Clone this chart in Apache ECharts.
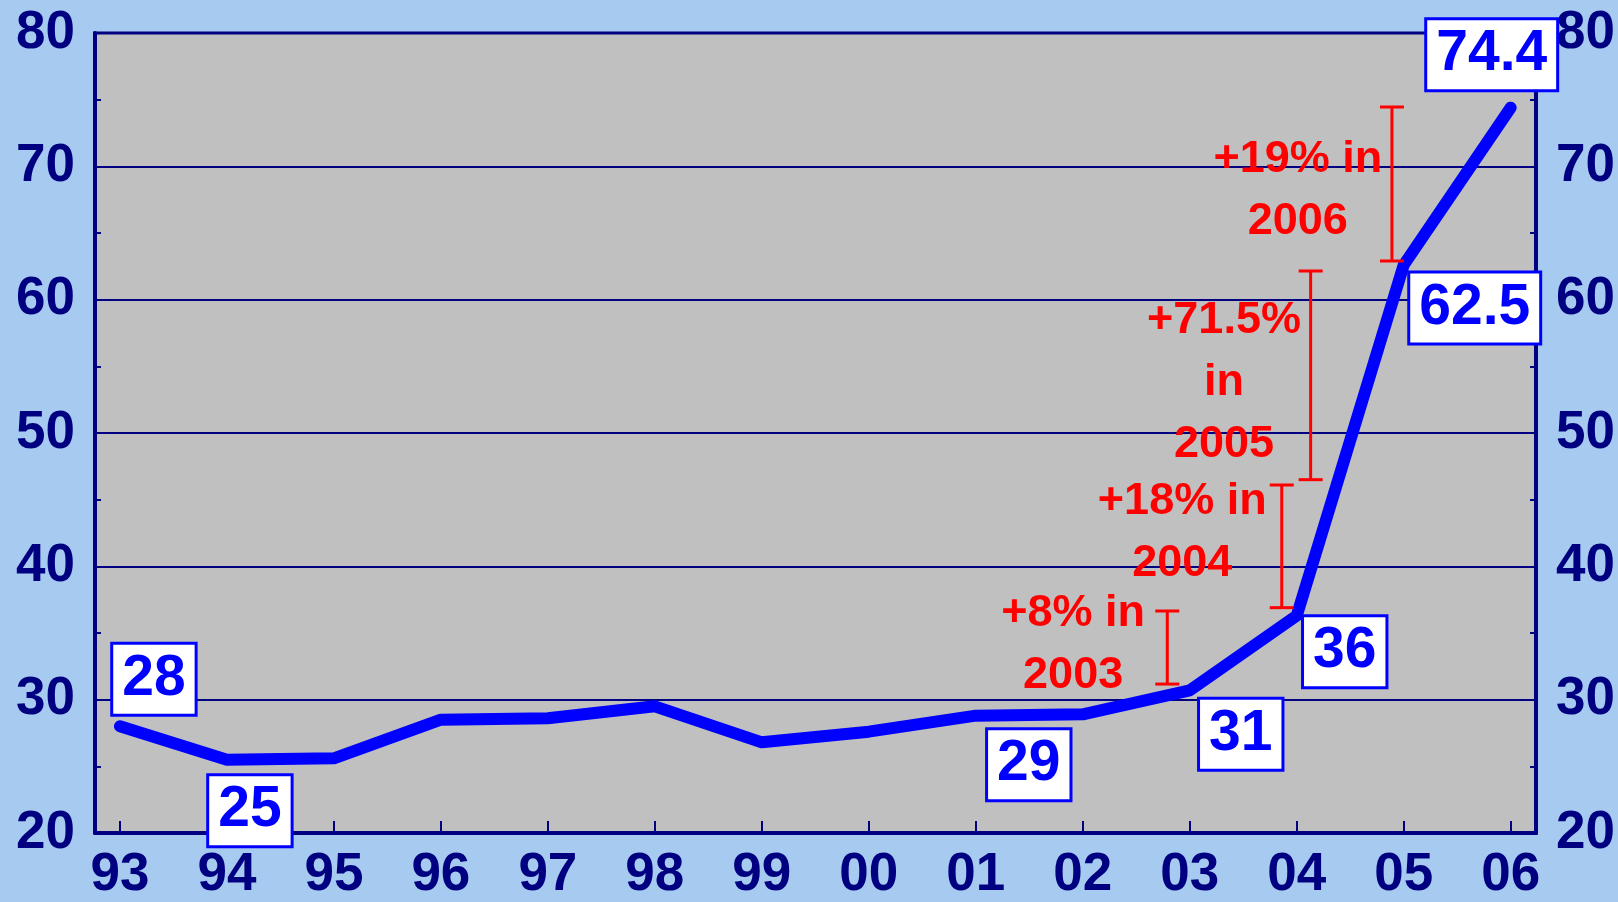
<!DOCTYPE html>
<html>
<head>
<meta charset="utf-8">
<script src="https://cdn.jsdelivr.net/npm/echarts@6/dist/echarts.min.js"></script>
<style>
  html, body { margin: 0; padding: 0; background: #a6caf0; }
  #chart { width: 1618px; height: 902px; }
</style>
</head>
<body>
<div id="chart"></div>
<script>
// data
const YEARS = ['93', '94', '95', '96', '97', '98', '99', '00', '01', '02', '03', '04', '05', '06']
const PRICES = [28, 25.5, 25.6, 28.5, 28.6, 29.5, 26.8, 27.6, 28.8, 28.9, 30.7, 36.3, 62.6, 74.4]
const POINT_LABELS = ['28', '25', '', '', '', '', '', '', '29', '', '31', '36', '62.5', '74.4']

// growth brackets (x in year index units, low/high in axis units)
const BRACKET_X = [9.79, 10.86, 11.13, 11.89]
const BRACKET_LOW = [31.17, 36.9, 46.5, 62.9]
const BRACKET_HIGH = [36.65, 46.1, 62.15, 74.45]
const NOTE_TEXT = ['+8% in\n2003', '+18% in\n2004', '+71.5%\nin\n2005', '+19% in\n2006']
const NOTE_X = [8.91, 9.93, 10.32, 11.01]
const NOTE_Y = [34.1, 42.5, 53.75, 68.15]

const NAVY = '#000080'
const BLUE = '#0000ff'
const RED = '#ff0000'
const FONT = "'Liberation Sans', Arial, sans-serif"

// where each value box sits relative to its point, in px
const LABEL_OFFSET = { 0: [34, -47], 1: [23, 51], 8: [53, 49], 10: [51, 44], 11: [48, 36], 12: [71, 43], 13: [-19, -53] }

const chart = echarts.init(document.getElementById('chart'))

const yAxisBase = {
  type: 'value',
  min: 20,
  max: 80,
  interval: 10,
  axisLine: { show: true, onZero: false, lineStyle: { color: NAVY, width: 4 } },
  axisTick: { show: false, inside: true },
  minorTick: { show: true, splitNumber: 2, length: 6, lineStyle: { color: NAVY, width: 2 } },
  axisLabel: { color: NAVY, fontSize: 53, fontWeight: 'bold', fontFamily: FONT, margin: 20 },
}

chart.setOption({
  backgroundColor: '#a6caf0',
  animation: false,
  grid: {
    left: 95, top: 33, width: 1444, height: 800,
    show: true, backgroundColor: '#c0c0c0', borderColor: NAVY, borderWidth: 3,
  },
  xAxis: {
    type: 'value',
    min: -0.233,
    max: 13.237,
    axisLine: { show: true, onZero: false, lineStyle: { color: NAVY, width: 4 } },
    axisTick: { show: true, inside: true, length: 12, customValues: YEARS.map((_, i) => i), lineStyle: { color: NAVY, width: 2 } },
    axisLabel: {
      customValues: YEARS.map((_, i) => i),
      formatter: v => YEARS[Math.round(v)],
      color: NAVY, fontSize: 53, fontWeight: 'bold', fontFamily: FONT, margin: 16,
    },
    splitLine: { show: false },
  },
  yAxis: [
    { ...yAxisBase, position: 'left', splitLine: { show: true, lineStyle: { color: NAVY, width: 2 } } },
    { ...yAxisBase, position: 'right', splitLine: { show: false } },
  ],
  series: [
    {
      type: 'line',
      data: PRICES.map((v, i) => [i, v]),
      symbol: 'none',
      lineStyle: { color: BLUE, width: 12, cap: 'round', join: 'round' },
      z: 3,
    },
    {
      type: 'custom',
      z: 4,
      data: BRACKET_X.map((x, i) => [x, BRACKET_LOW[i], BRACKET_HIGH[i], NOTE_X[i], NOTE_Y[i]]),
      renderItem: (params, api) => {
        const i = params.dataIndex
        const lo = api.coord([api.value(0), api.value(1)])
        const hi = api.coord([api.value(0), api.value(2)])
        const txt = api.coord([api.value(3), api.value(4)])
        const cap = 12
        const ls = { stroke: RED, lineWidth: 3 }
        return {
          type: 'group',
          children: [
            { type: 'line', shape: { x1: lo[0], y1: lo[1], x2: hi[0], y2: hi[1] }, style: ls },
            { type: 'line', shape: { x1: lo[0] - cap, y1: lo[1], x2: lo[0] + cap, y2: lo[1] }, style: ls },
            { type: 'line', shape: { x1: hi[0] - cap, y1: hi[1], x2: hi[0] + cap, y2: hi[1] }, style: ls },
            {
              type: 'text',
              style: {
                text: NOTE_TEXT[i], x: txt[0], y: txt[1],
                align: 'center', verticalAlign: 'middle',
                fill: RED, fontSize: 45, fontWeight: 'bold', fontFamily: FONT, lineHeight: 62,
              },
            },
          ],
        }
      },
    },
    {
      type: 'scatter',
      z: 5,
      symbol: 'rect',
      symbolSize: 1,
      itemStyle: { color: 'rgba(0,0,0,0)', opacity: 1 },
      data: PRICES.map((v, i) => ({
        value: [i, v],
        label: {
          show: POINT_LABELS[i] !== '',
          formatter: POINT_LABELS[i],
          position: 'inside',
          offset: LABEL_OFFSET[i] || [0, 0],
        },
      })),
      label: {
        color: BLUE, fontSize: 57, fontWeight: 'bold', fontFamily: FONT, lineHeight: 57,
        backgroundColor: '#ffffff', borderColor: BLUE, borderWidth: 3,
        padding: [8, 9, 4, 9],
      },
    },
  ],
})
</script>
</body>
</html>
